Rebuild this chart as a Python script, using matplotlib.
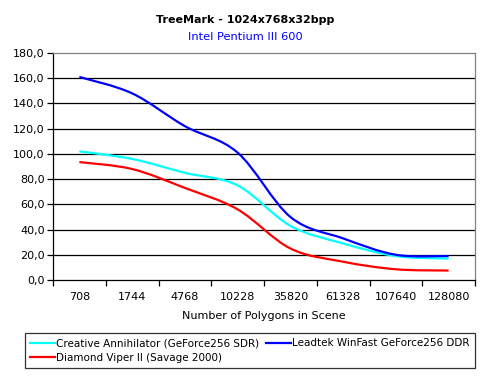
"""TreeMark 1024x768x32bpp line chart, Excel-style smoothed lines."""

import matplotlib

matplotlib.use("Agg")
import matplotlib.pyplot as plt
import numpy as np
from matplotlib.patches import PathPatch
from matplotlib.path import Path

plt.rcParams["font.family"] = "DejaVu Sans"

CATEGORIES = ["708", "1744", "4768", "10228", "35820", "61328", "107640", "128080"]
CREATIVE = [102.0, 96.0, 85.0, 75.0, 43.0, 29.0, 19.0, 17.0]
LEADTEK = [161.0, 148.0, 122.0, 101.0, 50.0, 33.0, 20.0, 19.0]
DIAMOND = [93.5, 88.0, 73.0, 56.0, 25.0, 14.5, 8.5, 7.5]

SERIES = [
    ("Creative Annihilator (GeForce256 SDR)", CREATIVE, "#00FFFF"),
    ("Leadtek WinFast GeForce256 DDR", LEADTEK, "#0000FF"),
    ("Diamond Viper II (Savage 2000)", DIAMOND, "#FF0000"),
]


def smooth_path(xs, ys):
    """Bezier path through the points, like Excel's smoothed line."""
    pts = np.column_stack([xs, ys]).astype(float)
    n = len(pts)
    verts = [pts[0]]
    codes = [Path.MOVETO]
    for i in range(n - 1):
        p0 = pts[max(i - 1, 0)]
        p1 = pts[i]
        p2 = pts[i + 1]
        p3 = pts[min(i + 2, n - 1)]
        c1 = p1 + (p2 - p0) / 6.0
        c2 = p2 - (p3 - p1) / 6.0
        verts += [c1, c2, p2]
        codes += [Path.CURVE4] * 3
    return Path(verts, codes)


fig = plt.figure(figsize=(4.9, 3.77), dpi=100)
fig.patch.set_facecolor("white")
ax = fig.add_axes([53 / 490, (377 - 280) / 377, 422 / 490, 227 / 377])

x = np.arange(len(CATEGORIES))
handles = {}
for label, values, color in SERIES:
    patch = PathPatch(
        smooth_path(x, values),
        fill=False,
        edgecolor=color,
        linewidth=1.6,
        capstyle="butt",
        zorder=3,
    )
    ax.add_patch(patch)
    (h,) = ax.plot([], [], color=color, linewidth=1.6, label=label)
    handles[label] = h

ax.set_xlim(-0.5, len(CATEGORIES) - 0.5)
ax.set_ylim(0, 180)

yticks = np.arange(0, 181, 20)
ax.set_yticks(yticks)
ax.set_yticklabels([f"{v:.1f}".replace(".", ",") for v in yticks])
for v in yticks[1:-1]:
    ax.axhline(v, color="black", linewidth=0.9, zorder=1)

ax.set_xticks(x)
ax.set_xticklabels(CATEGORIES)
ax.set_xticks(np.arange(-0.5, len(CATEGORIES)), minor=True)
ax.tick_params(axis="x", which="major", length=0, pad=9, labelsize=8)
ax.tick_params(axis="x", which="minor", length=4, direction="out", width=0.9)
ax.tick_params(axis="y", length=4, direction="out", width=0.9, labelsize=8, pad=2)

ax.spines["left"].set_color("black")
ax.spines["bottom"].set_color("black")
ax.spines["top"].set_color("#808080")
ax.spines["right"].set_color("#808080")
for s in ax.spines.values():
    s.set_linewidth(0.9)

ax.set_xlabel("Number of Polygons in Scene", fontsize=8, labelpad=6)

fig.text(0.5, 1 - 20 / 377, "TreeMark - 1024x768x32bpp", ha="center",
         va="center", fontsize=8, fontweight="bold")
fig.text(0.5, 1 - 37 / 377, "Intel Pentium III 600", ha="center",
         va="center", fontsize=8.2, color="#0000FF")

order = [SERIES[0][0], SERIES[2][0], SERIES[1][0]]
leg = fig.legend(
    [handles[k] for k in order],
    order,
    ncol=2,
    loc="upper left",
    bbox_to_anchor=(25 / 490, 1 - 368 / 377, 450 / 490, 35 / 377),
    mode="expand",
    fontsize=7.5,
    frameon=True,
    fancybox=False,
    edgecolor="black",
    handlelength=2.4,
    handletextpad=0.1,
    columnspacing=0.3,
    labelspacing=0.45,
    borderpad=0.5,
    borderaxespad=0,
)
leg.get_frame().set_linewidth(0.9)

fig.savefig("out.png", dpi=100)
